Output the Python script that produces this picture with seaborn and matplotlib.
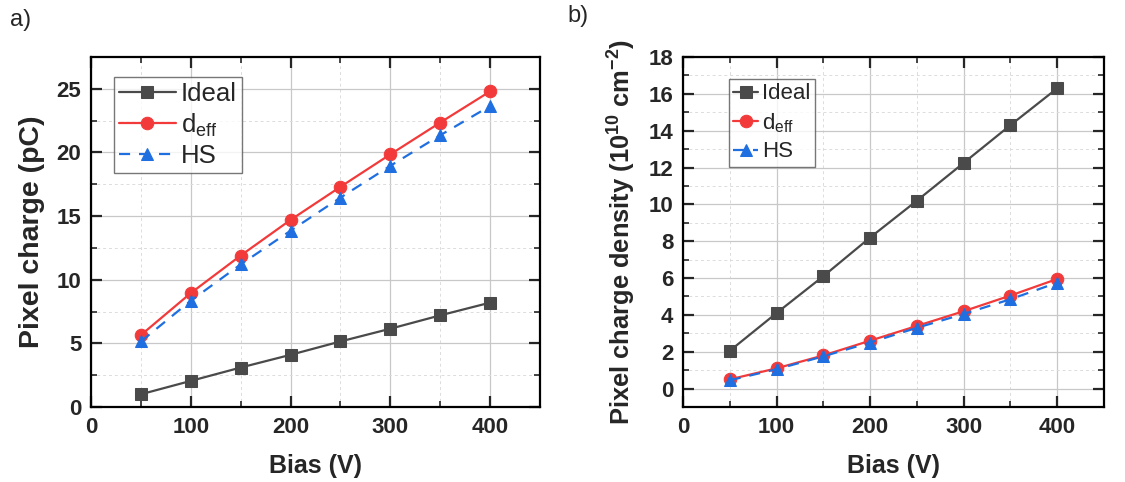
import numpy as np
import pandas as pd
import matplotlib
matplotlib.use("Agg")
import matplotlib.pyplot as plt
import seaborn as sns
from matplotlib.ticker import MultipleLocator

bias = [50, 100, 150, 200, 250, 300, 350, 400]
series_names = ["Ideal", "d$_{\\mathregular{eff}}$", "HS"]

charge_ideal = [1.0, 2.05, 3.1, 4.1, 5.15, 6.15, 7.2, 8.2]
charge_deff = [5.65, 8.95, 11.9, 14.7, 17.3, 19.85, 22.35, 24.8]
charge_hs = [5.15, 8.35, 11.2, 13.85, 16.45, 18.95, 21.35, 23.65]

dens_ideal = [2.05, 4.1, 6.1, 8.2, 10.2, 12.25, 14.3, 16.3]
dens_deff = [0.5, 1.1, 1.8, 2.6, 3.4, 4.2, 5.05, 5.95]
dens_hs = [0.45, 1.05, 1.75, 2.5, 3.3, 4.05, 4.85, 5.75]

sns.set_theme(style="white")
plt.rcParams['font.family'] = ['Liberation Sans', 'DejaVu Sans']
plt.rcParams['mathtext.fontset'] = 'custom'
plt.rcParams['mathtext.rm'] = 'Liberation Sans'
plt.rcParams['mathtext.bf'] = 'Liberation Sans:bold'

colors = ["#4a4a4a", "#f23a3a", "#1f6fe0"]
markers = ["s", "o", "^"]
styles = ["-", "-", (0, (5, 4))]

fig = plt.figure(figsize=(11.25, 4.82), dpi=100)
ax1 = fig.add_axes([91/1125, 1-407/482, (540-91)/1125, (407-57)/482])
ax2 = fig.add_axes([683/1125, 1-407/482, (1104-683)/1125, (407-57)/482])

def draw(ax, data, ylim, ymaj, ymin, ylabel, ylsize, legsize, handlelen, legloc, labspace):
    for vals, name, c, m, ls in zip(data, series_names, colors, markers, styles):
        sns.lineplot(x=bias, y=vals, ax=ax, color=c, marker=m, markersize=9,
                     markeredgecolor=c, linewidth=1.6, linestyle=ls, label=name)
    ax.set_xlim(0, 450)
    ax.set_ylim(*ylim)
    ax.xaxis.set_major_locator(MultipleLocator(100))
    ax.xaxis.set_minor_locator(MultipleLocator(50))
    ax.yaxis.set_major_locator(MultipleLocator(ymaj))
    ax.yaxis.set_minor_locator(MultipleLocator(ymin))
    ax.grid(True, which='major', color='#c8c8c8', linewidth=0.9, linestyle='-')
    ax.grid(True, which='minor', color='#dcdcdc', linewidth=0.7, linestyle=(0, (3, 3)))
    ax.set_axisbelow(True)
    for s in ax.spines.values():
        s.set_color('black')
        s.set_linewidth(1.6)
    ax.tick_params(which='major', direction='in', length=8, width=1.6, pad=7,
                   top=True, right=True, bottom=True, left=True, labelsize=16)
    ax.tick_params(which='minor', direction='in', length=4, width=1.2,
                   top=True, right=True, bottom=True, left=True)
    for lab in ax.get_xticklabels() + ax.get_yticklabels():
        lab.set_fontweight('bold')
    ax.set_xlabel("Bias (V)", fontsize=18, fontweight='bold', labelpad=12)
    ax.set_ylabel(ylabel, fontsize=ylsize, fontweight='bold', labelpad=8)
    leg = ax.legend(loc='upper left', bbox_to_anchor=legloc, fontsize=legsize, frameon=True,
                    fancybox=False, edgecolor='#555555', handlelength=handlelen,
                    borderpad=0.2, labelspacing=labspace, handletextpad=0.2,
                    borderaxespad=0)
    leg.get_frame().set_linewidth(1.0)

draw(ax1, [charge_ideal, charge_deff, charge_hs], (0, 27.5), 5, 2.5,
     "Pixel charge (pC)", 20.5, 18.5, 2.2, (0.051, 0.943), 0.2)
draw(ax2, [dens_ideal, dens_deff, dens_hs], (-1, 18), 2, 1,
     "Pixel charge density (10$^{\\mathbf{10}}$ cm$^{\\mathbf{-2}}$)", 18.4, 16, 1.1,
     (0.109, 0.937), 0.3)

fig.text(10/1125, 1-20/482, "a)", fontsize=17, va='center', ha='left')
fig.text(567/1125, 1-16/482, "b)", fontsize=17, va='center', ha='left')

fig.savefig("out.png", dpi=100)
